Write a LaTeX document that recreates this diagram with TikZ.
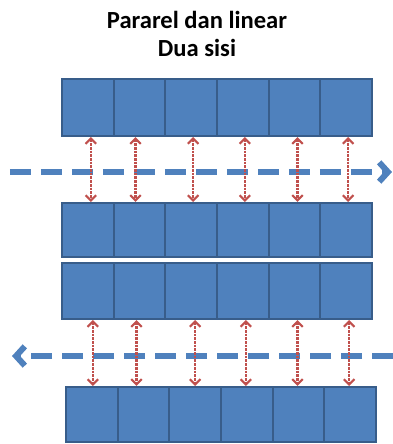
\documentclass[tikz,border=0pt]{standalone}
\usepackage{fontspec}
\setmainfont{Carlito}
\usepackage{tikz}
\usetikzlibrary{arrows.meta}

\definecolor{cellblue}{HTML}{4F81BD}
\definecolor{celledge}{HTML}{385D8A}
\definecolor{linkred}{HTML}{C0504D}

\tikzset{
	cell/.style={draw=celledge,fill=cellblue,line width=1.2pt,minimum width=1.033cm,inner sep=0pt},
	link/.style={linkred,line width=1.2pt,dash pattern=on 1.5pt off 0.6pt,{Straight Barb[length=3pt,width=6pt]}-{Straight Barb[length=3pt,width=6pt]}},
	flow/.style={cellblue,line width=3.4pt,dash pattern=on 0.42cm off 0.2cm,-{Straight Barb[length=5pt,width=11pt]}}
}

\begin{document}
\begin{tikzpicture}[x=0.02cm,y=-0.02cm]
		\useasboundingbox (0,0) rectangle (393,444);
		\node[font=\bfseries\fontsize{14}{16}\selectfont,align=center] (judul) at (197,34) {Pararel dan linear\\Dua sisi};
		% four rows of six cells
		\foreach \i in {1,...,6}{
			\node[cell,minimum height=1.14cm] (b1-\i) at ({62+(\i-0.5)*51.67},107.5) {};
			\node[cell,minimum height=1.08cm] (b2-\i) at ({62+(\i-0.5)*51.67},230) {};
			\node[cell,minimum height=1.12cm] (b3-\i) at ({62+(\i-0.5)*51.67},291) {};
			\node[cell,minimum height=1.1cm] (b4-\i) at ({66+(\i-0.5)*51.67},414.5) {};
		};
		% direction of flow
		\coordinate (f1a) at (10,172);
		\coordinate (f1b) at (392,172);
		\coordinate (f2a) at (393,356);
		\coordinate (f2b) at (12,356);
		\draw[flow] (f1a) -- (f1b);
		\draw[flow] (f2a) -- (f2b);
		\foreach \i/\dx in {1/3,2/-4,3/2,4/2,5/3,6/2}{
			\draw[link] ([xshift=\dx*0.02cm]b1-\i.south) -- ([xshift=\dx*0.02cm]b1-\i.south |- b2-\i.north);
		};
		\foreach \i/\dx in {1/5,2/-3,3/4,4/3,5/3,6/3}{
			\draw[link] ([xshift=\dx*0.02cm]b3-\i.south) -- ([xshift=\dx*0.02cm]b3-\i.south |- b4-\i.north);
		};
	\end{tikzpicture}
\end{document}
